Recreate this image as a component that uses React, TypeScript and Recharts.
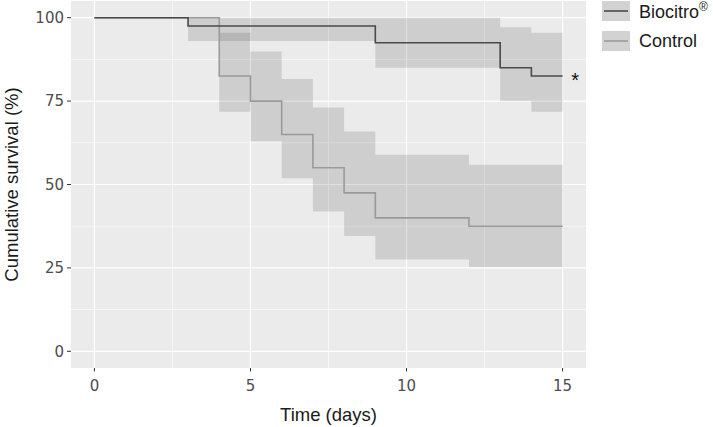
import { CartesianGrid, ComposedChart, Area, Line, XAxis, YAxis, ReferenceDot } from "recharts";

// Kaplan-Meier step estimates
const BIO_TIME = [0, 3, 9, 13, 14, 15];
const BIO_SURV = [100, 97.5, 92.5, 85, 82.5, 82.5];
const BIO_LOW = [100, 93, 85, 75, 71.8, 71.8];
const BIO_HIGH = [100, 100, 100, 97.1, 95.5, 95.5];

const CTRL_TIME = [0, 4, 5, 6, 7, 8, 9, 12, 15];
const CTRL_SURV = [100, 82.5, 75, 65, 55, 47.5, 40, 37.5, 37.5];
const CTRL_LOW = [100, 71.8, 63, 51.9, 41.9, 34.6, 27.5, 25.3, 25.3];
const CTRL_HIGH = [100, 95.5, 89.9, 81.6, 73.1, 65.9, 58.9, 55.9, 55.9];

const X_TICKS = [0, 5, 10, 15];
const X_MINOR = [-2.5, 2.5, 7.5, 12.5];
const Y_TICKS = [0, 25, 50, 75, 100];
const Y_MINOR = [12.5, 37.5, 62.5, 87.5];

const BIO_COLOR = "#4a4a4a";
const CTRL_COLOR = "#9a9a9a";

const bioData = BIO_TIME.map((t, i) => ({ t, surv: BIO_SURV[i], band: [BIO_LOW[i], BIO_HIGH[i]] }));
const ctrlData = CTRL_TIME.map((t, i) => ({ t, surv: CTRL_SURV[i], band: [CTRL_LOW[i], CTRL_HIGH[i]] }));

const tickStyle = { fill: "#4d4d4d", fontSize: 15, fontFamily: "DejaVu Sans" };
const titleFont = "Liberation Sans, Arial, sans-serif";
const titleStyle = { fontFamily: titleFont, fontSize: 18.5, fill: "#1a1a1a" };

function LegendBox() {
  const items = [
    { label: "Biocitro", sup: "®", color: BIO_COLOR },
    { label: "Control", sup: "", color: CTRL_COLOR },
  ];
  return (
    <div style={{ position: "absolute", left: 602, top: 1, fontFamily: titleFont, fontSize: 18, color: "#1a1a1a" }}>
      {items.map((it) => (
        <div key={it.label} style={{ display: "flex", alignItems: "center", height: 20, marginBottom: 10 }}>
          <svg width={28} height={20} style={{ marginRight: 9 }}>
            <rect x={0} y={0} width={28} height={20} fill="#d2d2d2" />
            <line x1={2} x2={26} y1={10} y2={10} stroke={it.color} strokeWidth={1.6} />
          </svg>
          <span>
            {it.label}
            {it.sup && <sup style={{ fontSize: 12 }}>{it.sup}</sup>}
          </span>
        </div>
      ))}
    </div>
  );
}

export default function App() {
  return (
    <div style={{ position: "absolute", left: 0, top: 0, width: 713, height: 427, background: "#fff" }}>
      <ComposedChart width={713} height={427} margin={{ top: 1, right: 127, bottom: 0, left: 0 }}>
        <CartesianGrid
          fill="#ebebeb"
          stroke="#ffffff"
          strokeWidth={0.6}
          horizontalValues={Y_MINOR}
          verticalValues={X_MINOR}
        />
        <CartesianGrid
          stroke="#ffffff"
          strokeWidth={1.2}
          horizontalValues={Y_TICKS}
          verticalValues={X_TICKS}
        />
        <XAxis
          type="number"
          dataKey="t"
          domain={[-0.75, 15.75]}
          ticks={X_TICKS}
          allowDataOverflow
          axisLine={false}
          tickLine={{ stroke: "#333" }}
          tickSize={3.5}
          tickMargin={8.5}
          tick={tickStyle}
          height={59}
          label={{
            content: (props: any) => {
              const vb = props.viewBox;
              return (
                <text x={vb.x + vb.width / 2} y={421} textAnchor="middle" style={titleStyle}>
                  Time (days)
                </text>
              );
            },
          }}
        />
        <YAxis
          type="number"
          domain={[-5, 105]}
          ticks={Y_TICKS}
          allowDataOverflow
          axisLine={false}
          tickLine={{ stroke: "#333" }}
          tickSize={4}
          tickMargin={3}
          tick={tickStyle}
          width={71}
          label={{
            content: (props: any) => {
              const vb = props.viewBox;
              const cy = vb.y + vb.height / 2;
              return (
                <text x={18} y={cy} transform={`rotate(-90 18 ${cy})`} textAnchor="middle" style={titleStyle}>
                  Cumulative survival (%)
                </text>
              );
            },
          }}
        />
        <Area
          data={ctrlData}
          dataKey="band"
          type="stepAfter"
          stroke="none"
          fill="#000"
          fillOpacity={0.12}
          isAnimationActive={false}
        />
        <Area
          data={bioData}
          dataKey="band"
          type="stepAfter"
          stroke="none"
          fill="#000"
          fillOpacity={0.12}
          isAnimationActive={false}
        />
        <Line
          data={ctrlData}
          dataKey="surv"
          type="stepAfter"
          stroke={CTRL_COLOR}
          strokeWidth={1.6}
          dot={false}
          isAnimationActive={false}
        />
        <Line
          data={bioData}
          dataKey="surv"
          type="stepAfter"
          stroke={BIO_COLOR}
          strokeWidth={1.6}
          dot={false}
          isAnimationActive={false}
        />
        <ReferenceDot
          x={15.4}
          y={82.5}
          r={0}
          ifOverflow="visible"
          label={{ value: "*", position: "center", dy: 4, style: { fontSize: 20, fill: "#111", fontFamily: titleFont } }}
        />
      </ComposedChart>
      <LegendBox />
    </div>
  );
}
